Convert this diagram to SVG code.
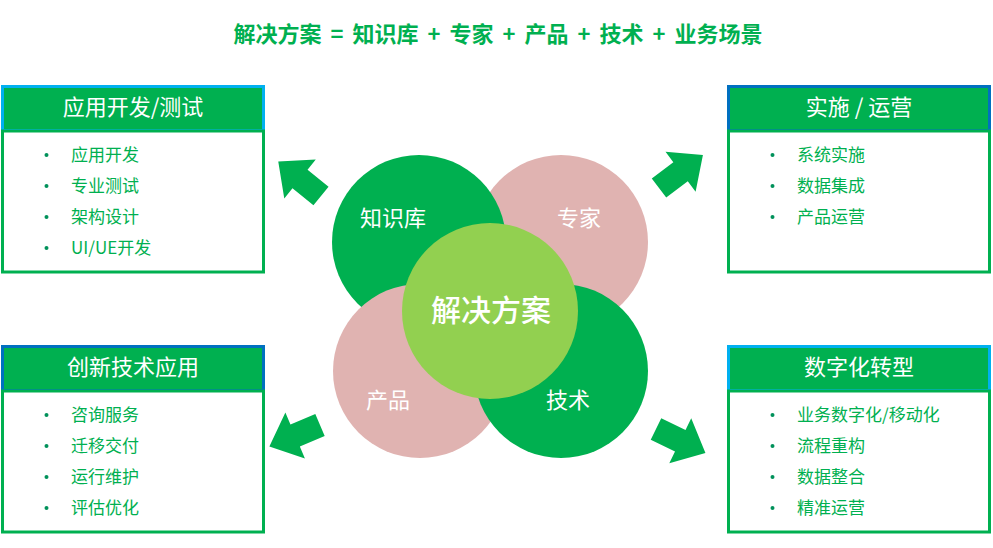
<svg xmlns="http://www.w3.org/2000/svg" width="993" height="548" viewBox="0 0 993 548">
<defs>
<style>
text{font-family:"Noto Sans CJK SC","Liberation Sans",sans-serif;}
.title{font-size:22px;font-weight:bold;fill:#00b050;text-anchor:middle;word-spacing:4px;}
.hdr{fill:#00b050;stroke-width:3;}
.cyan{stroke:#00b0f0;}
.blue{stroke:#0070c0;}
.body{fill:#ffffff;stroke:#00b050;stroke-width:3;}
.htext{font-size:22px;fill:#ffffff;text-anchor:middle;}
.item{font-size:17px;fill:#00b050;}
.dot{fill:#00915a;}
.ctext{font-size:22px;fill:#ffffff;text-anchor:middle;}
.green{fill:#00b050;}
.pink{fill:#e0b3b1;}
.arrow{fill:#00b050;}
</style>
<path id="arr" d="M0,-12 L27,-12 L27,-25 L55,0 L27,25 L27,12 L0,12 Z"/>
</defs>
<rect width="993" height="548" fill="#ffffff"/>
<text class="title" x="498" y="42">解决方案 = 知识库 + 专家 + 产品 + 技术 + 业务场景</text>

<g id="box-dev">
<rect class="hdr cyan" x="2.5" y="86.5" width="261" height="44"/>
<rect class="body" x="2.5" y="131" width="261" height="141"/>
<text class="htext" x="133" y="115">应用开发/测试</text>
<circle class="dot" cx="46.5" cy="155" r="2"/><text class="item" x="71" y="161">应用开发</text>
<circle class="dot" cx="46.5" cy="186" r="2"/><text class="item" x="71" y="192">专业测试</text>
<circle class="dot" cx="46.5" cy="217" r="2"/><text class="item" x="71" y="223">架构设计</text>
<circle class="dot" cx="46.5" cy="248" r="2"/><text class="item" x="71" y="254">UI/UE开发</text>
</g>

<g id="box-ops">
<rect class="hdr blue" x="728.5" y="86.5" width="261" height="44"/>
<rect class="body" x="728.5" y="131" width="261" height="141"/>
<text class="htext" x="859" y="115">实施 / 运营</text>
<circle class="dot" cx="772.5" cy="155" r="2"/><text class="item" x="797" y="161">系统实施</text>
<circle class="dot" cx="772.5" cy="186" r="2"/><text class="item" x="797" y="192">数据集成</text>
<circle class="dot" cx="772.5" cy="217" r="2"/><text class="item" x="797" y="223">产品运营</text>
</g>

<g id="box-innov">
<rect class="hdr blue" x="2.5" y="346.5" width="261" height="44"/>
<rect class="body" x="2.5" y="391" width="261" height="141"/>
<text class="htext" x="133" y="375">创新技术应用</text>
<circle class="dot" cx="46.5" cy="415" r="2"/><text class="item" x="71" y="421">咨询服务</text>
<circle class="dot" cx="46.5" cy="446" r="2"/><text class="item" x="71" y="452">迁移交付</text>
<circle class="dot" cx="46.5" cy="477" r="2"/><text class="item" x="71" y="483">运行维护</text>
<circle class="dot" cx="46.5" cy="508" r="2"/><text class="item" x="71" y="514">评估优化</text>
</g>

<g id="box-digital">
<rect class="hdr cyan" x="728.5" y="346.5" width="261" height="44"/>
<rect class="body" x="728.5" y="391" width="261" height="141"/>
<text class="htext" x="859" y="375">数字化转型</text>
<circle class="dot" cx="772.5" cy="415" r="2"/><text class="item" x="797" y="421">业务数字化/移动化</text>
<circle class="dot" cx="772.5" cy="446" r="2"/><text class="item" x="797" y="452">流程重构</text>
<circle class="dot" cx="772.5" cy="477" r="2"/><text class="item" x="797" y="483">数据整合</text>
<circle class="dot" cx="772.5" cy="508" r="2"/><text class="item" x="797" y="514">精准运营</text>
</g>

<g id="venn">
<g id="c-expert"><circle class="pink" cx="561" cy="242" r="87"/></g>
<g id="c-knowledge"><circle class="green" cx="419" cy="242" r="87"/></g>
<g id="c-product"><circle class="pink" cx="420" cy="371" r="87"/></g>
<g id="c-tech"><circle class="green" cx="561" cy="371" r="87"/></g>
<g id="c-solution"><circle fill="#92d050" cx="490" cy="311" r="88"/></g>
<text class="ctext" x="393" y="226">知识库</text>
<text class="ctext" x="579" y="226">专家</text>
<text class="ctext" x="388" y="408">产品</text>
<text class="ctext" x="568" y="408">技术</text>
<text class="ctext" x="491" y="321" style="font-size:30px;font-weight:500">解决方案</text>
</g>

<g id="connectors">
<use href="#arr" class="arrow" transform="translate(321,196) rotate(-141)"/>
<use href="#arr" class="arrow" transform="translate(659,188) rotate(-37)"/>
<use href="#arr" class="arrow" transform="translate(320,425) rotate(157)"/>
<use href="#arr" class="arrow" transform="translate(656,429) rotate(26)"/>
</g>
</svg>
